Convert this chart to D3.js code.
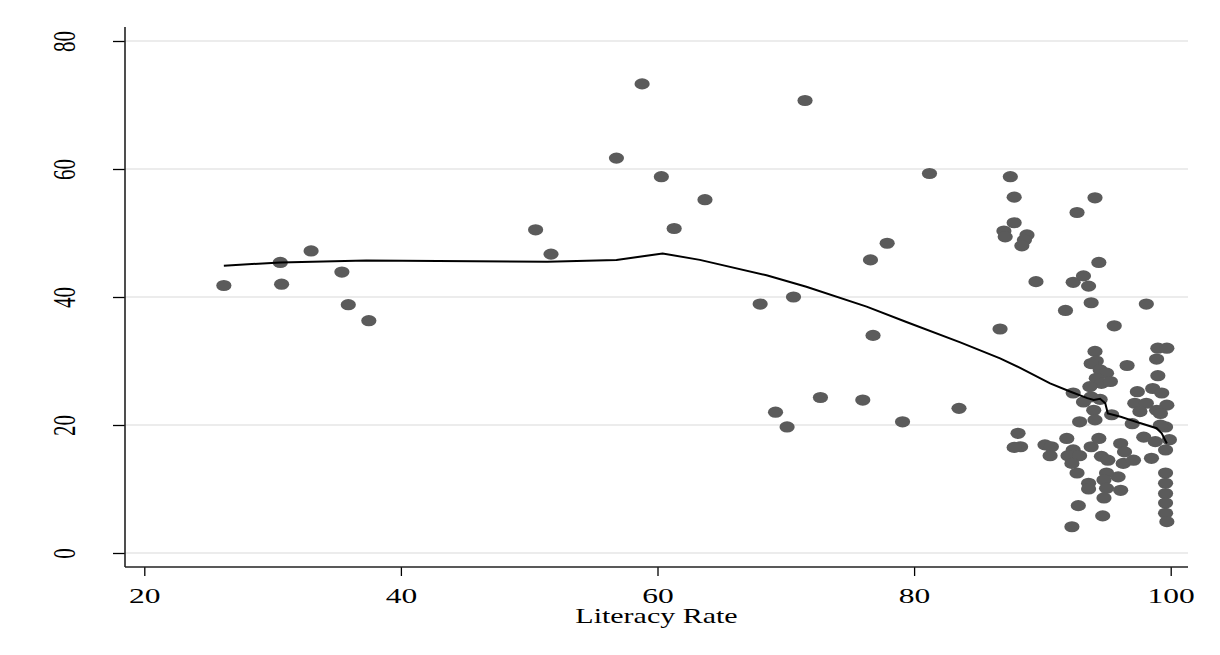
<!DOCTYPE html>
<html>
<head>
<meta charset="utf-8">
<script src="https://cdn.jsdelivr.net/npm/d3@7"></script>
<style>
  html, body { margin: 0; padding: 0; background: #ffffff; }
  svg { display: block; }
  text { font-family: "Liberation Serif", "Times New Roman", serif; fill: #000; }
</style>
</head>
<body>
<svg id="chart" width="1220" height="655"></svg>
<script>
// Literacy rate (x) against the outcome variable (y), one point per country
const literacy = [
  26.2, 30.6, 30.7, 33.0, 35.4, 35.9, 37.5, 50.5, 51.7, 56.8, 58.8, 60.3, 61.3, 63.7,
  68.0, 70.6, 69.2, 70.1, 71.5, 72.7, 76.0, 76.6, 76.8, 77.9, 79.1, 81.2, 83.5, 86.7,
  87.5, 87.8, 92.7, 94.1, 87.8, 87.0, 87.1, 88.8, 88.6, 88.4, 89.5, 92.4, 94.4, 93.2,
  93.6, 93.8, 98.1, 91.8, 95.6, 94.1, 94.2, 99.0, 99.7, 98.9, 96.6, 93.8, 94.5, 95.0,
  99.0, 94.2, 94.6, 95.3, 93.7, 92.4, 93.8, 94.5, 97.4, 98.6, 99.3, 97.2, 98.1, 99.7,
  93.2, 94.0, 95.4, 97.6, 98.9, 99.2, 92.9, 94.1, 97.0, 99.6, 99.2, 88.1, 88.3, 87.8,
  90.2, 90.7, 90.6, 91.9, 92.4, 92.0, 92.9, 92.3, 93.8, 94.4, 94.6, 95.1, 96.1, 96.4,
  96.3, 97.1, 95.9, 95.0, 97.9, 98.8, 99.9, 99.6, 98.5, 92.7, 93.6, 93.6, 94.8, 95.0,
  96.1, 99.6, 99.6, 99.6, 99.6, 99.6, 99.7, 92.8, 94.8, 94.7, 92.3
];
const outcome = [
  41.8, 45.4, 42.0, 47.2, 43.9, 38.8, 36.3, 50.5, 46.7, 61.7, 73.3, 58.8, 50.7, 55.2,
  38.9, 40.0, 22.0, 19.7, 70.7, 24.3, 23.9, 45.8, 34.0, 48.4, 20.5, 59.3, 22.6, 35.0,
  58.8, 55.6, 53.2, 55.5, 51.6, 50.3, 49.4, 49.7, 48.9, 48.0, 42.4, 42.3, 45.4, 43.3,
  41.7, 39.1, 38.9, 37.9, 35.5, 31.5, 30.0, 32.0, 32.0, 30.3, 29.3, 29.6, 28.6, 28.1,
  27.7, 27.3, 26.5, 26.8, 26.0, 25.0, 24.4, 24.0, 25.2, 25.7, 25.0, 23.4, 23.4, 23.1,
  23.6, 22.3, 21.6, 22.1, 22.3, 21.8, 20.5, 20.8, 20.2, 19.7, 20.0, 18.7, 16.6, 16.5,
  16.9, 16.6, 15.2, 17.9, 16.1, 15.2, 15.2, 14.0, 16.6, 17.9, 15.1, 14.5, 17.1, 15.8,
  14.0, 14.5, 11.9, 12.5, 18.1, 17.4, 17.7, 16.1, 14.8, 12.5, 10.9, 10.0, 11.4, 10.1,
  9.8, 12.5, 10.9, 9.3, 7.8, 6.2, 4.9, 7.4, 8.6, 5.8, 4.1
];

// Smoothed (lowess) fit
const fitX = [26.2, 30.6, 37.3, 51.4, 56.8, 60.4, 63.3, 68.5, 71.6, 76.3, 79.4, 83.6,
  86.7, 88.3, 90.6, 92.2, 93.5, 94.0, 94.5, 94.9, 95.1, 96.1, 97.6, 98.9, 99.3, 99.7];
const fitY = [44.9, 45.4, 45.7, 45.5, 45.8, 46.8, 45.8, 43.4, 41.6, 38.5, 36.1, 32.9,
  30.4, 28.9, 26.5, 25.2, 24.2, 23.9, 24.1, 23.4, 21.8, 21.3, 20.3, 19.5, 18.7, 17.1];

const xTicks = [20, 40, 60, 80, 100];
const yTicks = [0, 20, 40, 60, 80];
const xTitle = "Literacy Rate";

const svg = d3.select("#chart");
const plot = { left: 125, right: 1188, top: 27, bottom: 567 };

const x = d3.scaleLinear().domain([20, 100]).range([144.3, 1170.7]);
const y = d3.scaleLinear().domain([0, 80]).range([553, 41]);

// horizontal gridlines
svg.append("g")
  .selectAll("line")
  .data(yTicks)
  .join("line")
  .attr("x1", plot.left).attr("x2", plot.right)
  .attr("y1", d => y(d)).attr("y2", d => y(d))
  .attr("stroke", "#e6e6e6")
  .attr("stroke-width", 1.6);

// axes
const gx = svg.append("g")
  .attr("transform", `translate(0,${plot.bottom})`)
  .call(d3.axisBottom(x).tickValues(xTicks).tickSize(9).tickFormat(d3.format("d")));
gx.select(".domain").remove();
gx.selectAll(".tick line").attr("stroke", "#000").attr("stroke-width", 1.3);
gx.selectAll(".tick text")
  .attr("y", null).attr("dy", null)
  .attr("transform", "translate(0,36) scale(1.5,1)")
  .attr("text-anchor", "middle")
  .style("font-size", "21px")
  .style("font-family", "'Liberation Serif','Times New Roman',serif")
  .attr("fill", "#000");

const gy = svg.append("g")
  .attr("transform", `translate(${plot.left},0)`)
  .call(d3.axisLeft(y).tickValues(yTicks).tickSize(12).tickFormat(d3.format("d")));
gy.select(".domain").remove();
gy.selectAll(".tick line").attr("stroke", "#000").attr("stroke-width", 1.3);
gy.selectAll(".tick text")
  .attr("x", null).attr("dy", null)
  .attr("transform", "translate(-50,0) scale(1.5,1) rotate(-90)")
  .attr("text-anchor", "middle")
  .style("font-size", "21px")
  .style("font-family", "'Liberation Serif','Times New Roman',serif")
  .attr("fill", "#000");

// axis lines
svg.append("line")
  .attr("x1", plot.left).attr("x2", plot.left)
  .attr("y1", plot.top).attr("y2", plot.bottom)
  .attr("stroke", "#222").attr("stroke-width", 1.6);
svg.append("line")
  .attr("x1", plot.left).attr("x2", plot.right)
  .attr("y1", plot.bottom).attr("y2", plot.bottom)
  .attr("stroke", "#222").attr("stroke-width", 1.6);

// axis title
svg.append("text")
  .attr("transform", `translate(${(plot.left + plot.right) / 2},623) scale(1.5,1)`)
  .attr("text-anchor", "middle")
  .style("font-size", "20px")
  .text(xTitle);

// scatter points
const pts = literacy.map((v, i) => ({ lit: v, val: outcome[i] }));
svg.append("g")
  .selectAll("ellipse")
  .data(pts)
  .join("ellipse")
  .attr("cx", d => x(d.lit))
  .attr("cy", d => y(d.val))
  .attr("rx", 7.6)
  .attr("ry", 5.6)
  .attr("fill", "#5b5b5b");

// fitted line
const fit = fitX.map((v, i) => [v, fitY[i]]);
svg.append("path")
  .datum(fit)
  .attr("d", d3.line().x(d => x(d[0])).y(d => y(d[1])))
  .attr("fill", "none")
  .attr("stroke", "#000")
  .attr("stroke-width", 2);
</script>
</body>
</html>
